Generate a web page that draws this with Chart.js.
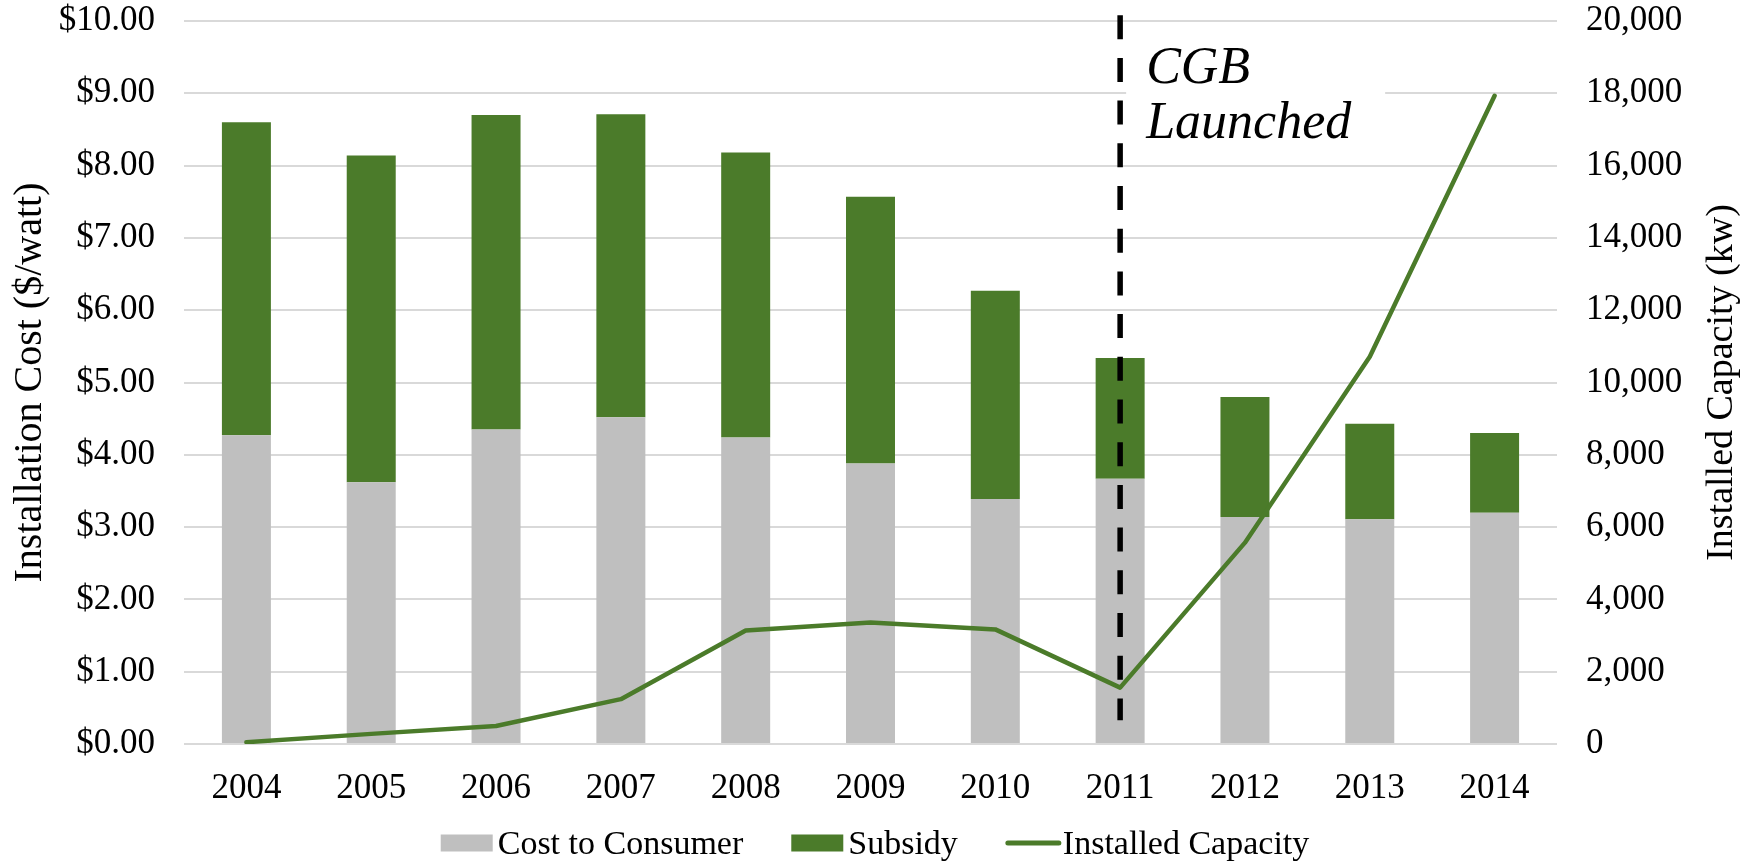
<!DOCTYPE html>
<html>
<head>
<meta charset="utf-8">
<title>Installation Cost and Installed Capacity, 2004–2014</title>
<script src="https://cdn.jsdelivr.net/npm/chart.js@4.4.1/dist/chart.umd.min.js"></script>
<style>
  html, body { margin: 0; padding: 0; background: #ffffff; }
  #wrap { width: 1750px; height: 861px; position: relative; }
</style>
</head>
<body>
<div id="wrap"><canvas id="chart"></canvas></div>
<script>
// ---- data ----
const years = ['2004', '2005', '2006', '2007', '2008', '2009', '2010', '2011', '2012', '2013', '2014'];
const costToConsumer = [4.27, 3.62, 4.35, 4.52, 4.24, 3.88, 3.39, 3.67, 3.14, 3.11, 3.20];
const subsidy = [4.33, 4.52, 4.35, 4.19, 3.94, 3.69, 2.88, 1.67, 1.66, 1.32, 1.10];
const installedCapacity = [50, 280, 500, 1240, 3140, 3360, 3170, 1560, 5570, 10710, 17930];

const seriesNames = ['Cost to Consumer', 'Subsidy', 'Installed Capacity'];
const leftAxisTitle = 'Installation Cost ($/watt)';
const rightAxisTitle = 'Installed Capacity (kw)';

// launch marker: year and the span of the dashed rule on the cost axis
const launchYear = '2011';
const launchRuleTop = 10.08;
const launchRuleBottom = 0.33;
const launchText = ['CGB', 'Launched'];

// ---- styling ----
const FONT = "'Liberation Serif', 'Times New Roman', serif";
const GREEN = '#4b7b2a';
const GREY = '#bfbfbf';
const GRID = '#d9d9d9';
const TICK_SIZE = 35;

// axis titles, both reading bottom-to-top
const axisTitles = {
  id: 'axisTitles',
  afterDraw(chart) {
    const { ctx, chartArea } = chart;
    const cy = (chartArea.top + chartArea.bottom) / 2;
    ctx.save();
    ctx.fillStyle = '#000';
    ctx.textAlign = 'center';
    ctx.textBaseline = 'alphabetic';
    [[40.5, leftAxisTitle, 40], [1731.5, rightAxisTitle, 38]].forEach(([x, t, size]) => {
      ctx.save();
      ctx.font = size + 'px ' + FONT;
      ctx.translate(x, cy);
      ctx.rotate(-Math.PI / 2);
      ctx.fillText(t, 0, 0);
      ctx.restore();
    });
    ctx.restore();
  }
};

// dashed rule at the launch year with its caption
const launchMarker = {
  id: 'launchMarker',
  afterDatasetsDraw(chart) {
    const { ctx } = chart;
    const xs = chart.scales.x, ys = chart.scales.y;
    const x = xs.getPixelForValue(years.indexOf(launchYear));
    const yTop = ys.getPixelForValue(launchRuleTop);
    const yBot = ys.getPixelForValue(launchRuleBottom);
    ctx.save();
    // caption box
    ctx.fillStyle = '#ffffff';
    ctx.fillRect(x + 6, 30, 259, 128);
    ctx.fillStyle = '#000';
    ctx.font = 'italic 52px ' + FONT;
    ctx.textAlign = 'left';
    ctx.textBaseline = 'alphabetic';
    ctx.fillText(launchText[0], x + 26, 83);
    ctx.fillText(launchText[1], x + 26, 138);
    // dashed rule
    ctx.strokeStyle = '#000';
    ctx.lineWidth = 5.5;
    ctx.setLineDash([24, 18.7]);
    ctx.beginPath();
    ctx.moveTo(x, yTop);
    ctx.lineTo(x, yBot);
    ctx.stroke();
    ctx.restore();
  }
};

// legend row under the axis
const legendRow = {
  id: 'legendRow',
  afterDraw(chart) {
    const { ctx } = chart;
    const ds = chart.data.datasets;
    ctx.save();
    ctx.font = '34px ' + FONT;
    const box = 52, gap = 5, spacing = 48, cy = 843, base = 854;
    const widths = ds.map(d => box + gap + ctx.measureText(d.label).width);
    const total = widths.reduce((a, b) => a + b, 0) + spacing * (ds.length - 1);
    let x = chart.width / 2 - total / 2;
    ds.forEach((d, i) => {
      if (d.type === 'line') {
        ctx.strokeStyle = d.borderColor;
        ctx.lineWidth = 5;
        ctx.lineCap = 'round';
        ctx.beginPath();
        ctx.moveTo(x + 2, cy);
        ctx.lineTo(x + box + 1, cy);
        ctx.stroke();
      } else {
        ctx.fillStyle = d.backgroundColor;
        ctx.fillRect(x, cy - 8.5, box, 17);
      }
      ctx.fillStyle = '#000';
      ctx.textAlign = 'left';
      ctx.textBaseline = 'alphabetic';
      ctx.fillText(d.label, x + box + gap, base);
      x += widths[i] + spacing;
    });
    ctx.restore();
  }
};

// vertical axes: fixed width, and no extra top/bottom reserve for labels
function fixVertical(width) {
  return function (scale) {
    scale.width = width;
    scale.paddingTop = 0;
    scale.paddingBottom = 0;
  };
}

Chart.defaults.font.family = FONT;
Chart.defaults.color = '#000';

new Chart(document.getElementById('chart'), {
  data: {
    labels: years,
    datasets: [
      {
        type: 'bar',
        label: seriesNames[0],
        data: costToConsumer,
        backgroundColor: GREY,
        yAxisID: 'y',
        order: 2,
        barPercentage: 0.3925,
        categoryPercentage: 1.0
      },
      {
        type: 'bar',
        label: seriesNames[1],
        data: subsidy,
        backgroundColor: GREEN,
        yAxisID: 'y',
        order: 2,
        barPercentage: 0.3925,
        categoryPercentage: 1.0
      },
      {
        type: 'line',
        label: seriesNames[2],
        data: installedCapacity,
        borderColor: GREEN,
        backgroundColor: GREEN,
        borderWidth: 4.5,
        borderJoinStyle: 'round',
        borderCapStyle: 'round',
        pointRadius: 0,
        tension: 0,
        yAxisID: 'y1',
        order: 1
      }
    ]
  },
  options: {
    responsive: true,
    maintainAspectRatio: false,
    animation: false,
    layout: { padding: { top: 21, left: 0, right: 0, bottom: 0 } },
    plugins: {
      legend: { display: false },
      tooltip: { enabled: false }
    },
    scales: {
      x: {
        stacked: true,
        grid: { display: false },
        border: { display: false },
        ticks: { font: { size: TICK_SIZE }, padding: 16, maxRotation: 0 },
        afterFit(scale) { scale.height = 117; }
      },
      y: {
        type: 'linear',
        position: 'left',
        stacked: true,
        min: 0,
        max: 10,
        grid: { color: GRID, lineWidth: 2, drawTicks: false },
        border: { display: false },
        ticks: {
          stepSize: 1,
          padding: 29,
          font: { size: TICK_SIZE },
          callback: v => '$' + Number(v).toFixed(2)
        },
        afterFit: fixVertical(184)
      },
      y1: {
        type: 'linear',
        position: 'right',
        min: 0,
        max: 20000,
        grid: { display: false, drawTicks: false },
        border: { display: false },
        ticks: {
          stepSize: 2000,
          padding: 29,
          font: { size: TICK_SIZE },
          callback: v => Number(v).toLocaleString('en-US')
        },
        afterFit: fixVertical(193)
      }
    }
  },
  plugins: [axisTitles, launchMarker, legendRow]
});
</script>
</body>
</html>
